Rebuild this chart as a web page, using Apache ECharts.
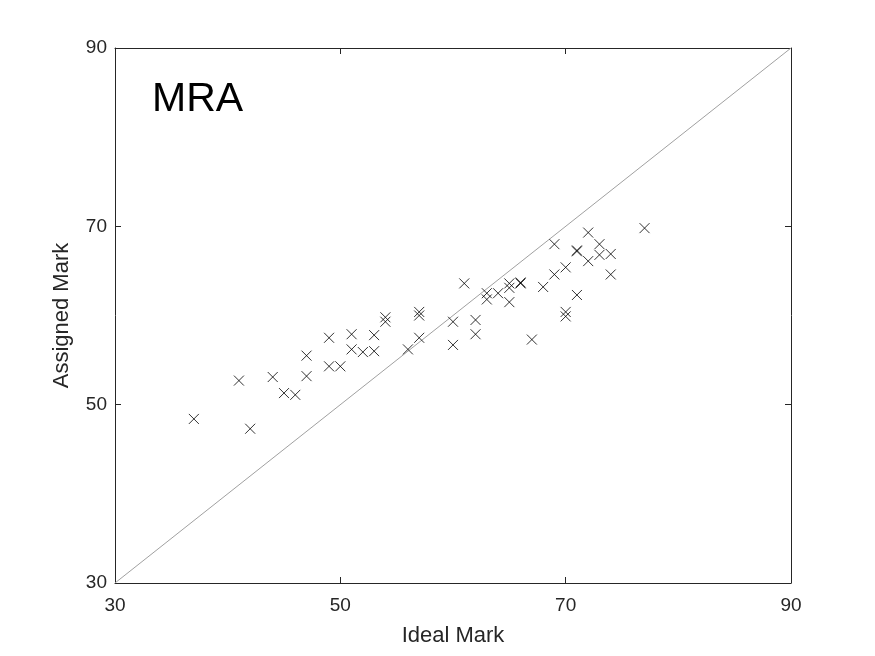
<!DOCTYPE html>
<html>
<head>
<meta charset="utf-8">
<script src="https://cdn.jsdelivr.net/npm/echarts@6/dist/echarts.min.js"></script>
<style>html,body{margin:0;padding:0;background:#fff;}#c{width:875px;height:656px;}</style>
</head>
<body>
<div id="c"></div>
<script>
var idealMark = [37,41,42,44,45,46,47,47,49,49,50,51,51,52,53,53,54,54,56,57,57,57,60,60,61,62,62,63,63,64,65,65,65,66,66,67,68,69,69,70,70,70,71,71,71,72,72,73,73,74,74,77];
var assignedMark = [48.4,52.7,47.3,53.1,51.3,51.1,55.5,53.2,57.5,54.3,54.3,57.9,56.2,55.9,57.8,56.0,59.8,59.3,56.2,60.4,60.0,57.5,59.3,56.7,63.6,59.5,57.9,62.5,61.8,62.5,63.6,63.1,61.5,63.6,63.7,57.3,63.2,68.0,64.6,65.4,60.4,59.9,67.2,67.3,62.3,69.3,66.1,68.0,66.8,66.9,64.6,69.8];
var ticks = [30,50,70,90];
var diag = [[30,30],[90,90]];

var pts = idealMark.map(function(x,i){return [x, assignedMark[i]];});
var axisCol = '#262626';
var font = 'Liberation Sans, Arial, sans-serif';

function xA(pos, show){
  return {type:'value', position:pos, min:30, max:90, interval:20,
    axisLine:{show:true, onZero:false, lineStyle:{color:axisCol, width:1}},
    axisTick:{show:true, inside:true, length:6, lineStyle:{color:axisCol}},
    axisLabel:{show:show, color:axisCol, fontSize:19, fontFamily:font, margin:13},
    splitLine:{show:false},
    name: show ? 'Ideal Mark' : '', nameLocation:'middle', nameGap:42,
    nameTextStyle:{color:axisCol, fontSize:22, fontFamily:font}};
}
function yA(pos, show){
  return {type:'value', position:pos, min:30, max:90, interval:20,
    axisLine:{show:true, onZero:false, lineStyle:{color:axisCol, width:1}},
    axisTick:{show:true, inside:true, length:6, lineStyle:{color:axisCol}},
    axisLabel:{show:show, color:axisCol, fontSize:19, fontFamily:font, margin:8},
    splitLine:{show:false},
    name: show ? 'Assigned Mark' : '', nameLocation:'middle', nameGap:42,
    nameTextStyle:{color:axisCol, fontSize:22, fontFamily:font}};
}

var chart = echarts.init(document.getElementById('c'));
chart.setOption({
  animation:false,
  backgroundColor:'#fff',
  grid:{left:115, right:84, top:48, bottom:73},
  title:{text:'MRA', left:147, top:74, textStyle:{fontSize:41, fontWeight:'normal', color:'#000', fontFamily:font}},
  xAxis:[xA('bottom', true), xA('top', false)],
  yAxis:[yA('left', true), yA('right', false)],
  series:[
    {type:'line', data:diag, showSymbol:false, symbol:'none', lineStyle:{color:'#a0a0a0', width:1}, silent:true, z:1},
    {type:'scatter', data:pts, symbol:'path://M0,0L10,10M10,0L0,10', symbolSize:10,
      itemStyle:{color:'none', borderColor:'#000', borderWidth:1}, z:3}
  ]
});
</script>
</body>
</html>
